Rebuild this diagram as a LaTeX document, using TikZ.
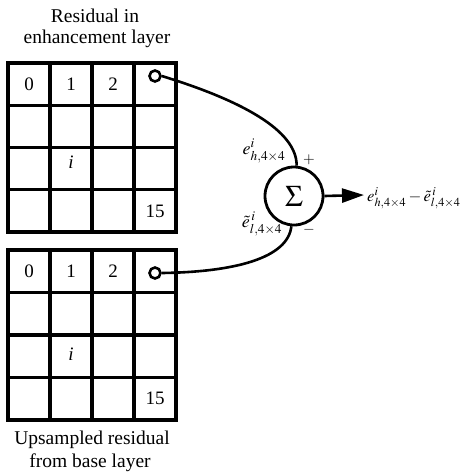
\documentclass[tikz,border=0pt]{standalone}
\usepackage{mathptmx}
\usepackage{fontspec}
\setmainfont{Liberation Serif}
\usetikzlibrary{arrows.meta}
\tikzset{
  gridline/.style={line width=3.2pt, line cap=rect},
  celltext/.style={font=\fontsize{19}{21}\selectfont, inner sep=0pt},
  title/.style={font=\fontsize{19.5}{22}\selectfont, align=center, inner sep=0pt},
  dot/.style={circle, draw, line width=2.6pt, minimum size=11pt, inner sep=0pt},
  wire/.style={line width=2.6pt},
  sumnode/.style={circle, draw, line width=2.8pt, minimum size=58pt, inner sep=0pt, font=\fontsize{30}{32}\selectfont},
  lab/.style={font=\fontsize{18}{20}\selectfont, inner sep=0pt},
  outlab/.style={font=\fontsize{16.5}{19}\selectfont, inner sep=0pt},
  sign/.style={font=\fontsize{15}{17}\selectfont, inner sep=0pt}
}
\begin{document}
\begin{tikzpicture}[x=1pt,y=-1pt]
\useasboundingbox (0,0) rectangle (464,474);
% top grid
\foreach \k in {0,...,4} {
  \draw[gridline] (8+42*\k,63) -- (8+42*\k,232);
  \draw[gridline] (8,63+42.25*\k) -- (176,63+42.25*\k);
}
% bottom grid
\foreach \k in {0,...,4} {
  \draw[gridline] (8+42*\k,250) -- (8+42*\k,420);
  \draw[gridline] (8,250+42.5*\k) -- (176,250+42.5*\k);
}
% titles
\node[title] (t1) at (95,16) {Residual in};
\node[title] (t2) at (97,39) {enhancement layer};
\node[title] (b1) at (92,440) {Upsampled residual};
\node[title] (b2) at (90,463) {from base layer};
% top cell texts
\node[celltext] (a0) at (29,84) {0};
\node[celltext] (a1) at (71,84) {1};
\node[celltext] (a2) at (113,84) {2};
\node[celltext] (ai) at (71,162) {\itshape i};
\node[celltext] (a15) at (155,211) {15};
\node[dot] (c1) at (155,76) {};
% bottom cell texts
\node[celltext] (b0) at (29,271) {0};
\node[celltext] (bb1) at (71,271) {1};
\node[celltext] (b2c) at (113,271) {2};
\node[celltext] (bi) at (71,354) {\itshape i};
\node[celltext] (b15) at (155,398) {15};
\node[dot] (c2) at (155,273) {};
% sum
\node[sumnode] (sum) at (294,196) {$\Sigma$};
\draw[wire] (c1.east) .. controls (240,100) and (297,130) .. (sum.85);
\draw[wire] (sum.265) .. controls (288,258) and (235,272) .. (c2.east);
\node[lab] (eh) at (264,151) {$e^{i}_{h,4\times4}$};
\node[lab] (el) at (262,224) {$\tilde{e}^{\,i}_{l,4\times4}$};
\node[sign] (plus) at (309,160) {$+$};
\node[sign] (minus) at (309,230) {$-$};
\coordinate (tip) at (364,195);
\draw[wire, -{Triangle[length=22pt,width=14pt]}] (sum.east) -- (tip);
\node[outlab, anchor=west] (out) at (367,198) {$e^{i}_{h,4\times4}-\tilde{e}^{\,i}_{l,4\times4}$};
\end{tikzpicture}
\end{document}
